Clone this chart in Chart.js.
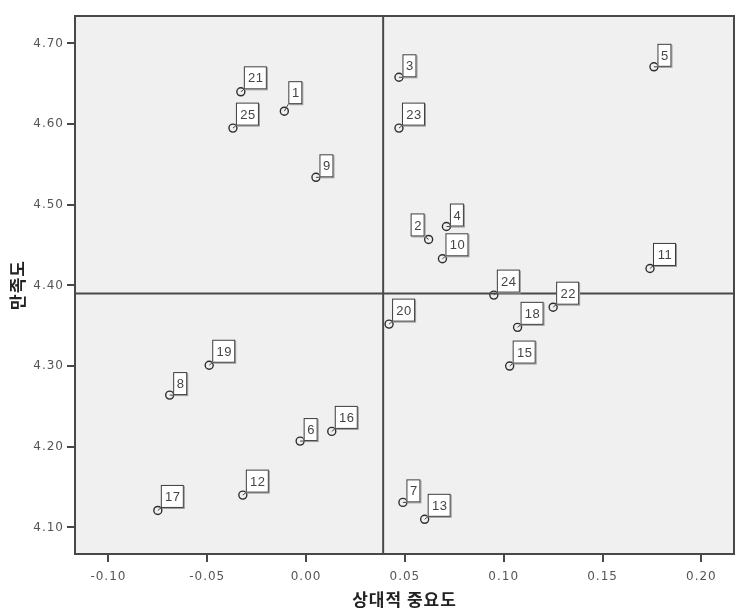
<!DOCTYPE html>
<html>
<head>
<meta charset="utf-8">
<script src="https://cdn.jsdelivr.net/npm/chart.js@4"></script>
<style>
  html, body { margin: 0; padding: 0; background: #fff; }
  #wrap { width: 750px; height: 616px; }
</style>
</head>
<body>
<div id="wrap"><canvas id="chart" width="750" height="616"></canvas></div>
<script>
// item numbers and their coordinates
const itemLabels = ["21", "1", "25", "9", "3", "5", "23", "2", "4", "10", "11", "24", "22",
  "20", "18", "15", "7", "13", "19", "8", "6", "16", "12", "17"];
const importance = [-0.033, -0.011, -0.037, 0.005, 0.047, 0.176, 0.047, 0.062, 0.071, 0.069, 0.174, 0.095, 0.125,
  0.042, 0.107, 0.103, 0.049, 0.060, -0.049, -0.069, -0.003, 0.013, -0.032, -0.075];
const satisfaction = [4.640, 4.616, 4.595, 4.534, 4.658, 4.671, 4.595, 4.457, 4.473, 4.433, 4.421, 4.388, 4.373,
  4.352, 4.348, 4.300, 4.131, 4.110, 4.301, 4.264, 4.207, 4.219, 4.140, 4.121];

// mean lines
const meanImportance = 0.039;
const meanSatisfaction = 4.390;

// axes
const xTicks = [-0.10, -0.05, 0.00, 0.05, 0.10, 0.15, 0.20];
const yTicks = [4.10, 4.20, 4.30, 4.40, 4.50, 4.60, 4.70];
const xRange = [-0.1169, 0.2165];
const yRange = [4.067, 4.734];

// labels that are not placed up-right of their point
const labelPlacement = { "1": { dx: 4, dy: -7 }, "2": { dx: -18, dy: -3 } };

const points = importance.map((x, i) => ({ x: x, y: satisfaction[i] }));

const plotFrame = {
  id: "plotFrame",
  beforeDraw(chart) {
    // the original axis text is spaced out a little
    chart.ctx.letterSpacing = "1px";
  },
  beforeDatasetsDraw(chart) {
    const { ctx, chartArea: a } = chart;
    ctx.save();
    ctx.fillStyle = "#f0f0f0";
    ctx.fillRect(a.left, a.top, a.right - a.left, a.bottom - a.top);
    ctx.restore();
  },
  afterDatasetsDraw(chart) {
    const { ctx, chartArea: a } = chart;
    ctx.save();
    ctx.strokeStyle = "#484848";
    ctx.lineWidth = 2;
    ctx.strokeRect(a.left, a.top, a.right - a.left, a.bottom - a.top);

    // number boxes next to each point
    const meta = chart.getDatasetMeta(2);
    ctx.font = "13px 'Liberation Sans', Arial, sans-serif";
    ctx.letterSpacing = "0.5px";
    ctx.textAlign = "center";
    ctx.textBaseline = "middle";
    meta.data.forEach((pt, i) => {
      const txt = itemLabels[i];
      const w = txt.length > 1 ? 23 : 14;
      const h = 23;
      let dx = txt.length > 1 ? 3 : 3.5;
      let dy = txt.length > 1 ? -2.5 : 0;
      if (labelPlacement[txt]) {
        dx = labelPlacement[txt].dx;
        dy = labelPlacement[txt].dy;
      }
      const left = pt.x + dx;
      const bottom = pt.y + dy;
      const cornerX = dx < 0 ? left + w : left;

      ctx.strokeStyle = "#444";
      ctx.lineWidth = 1;
      ctx.beginPath();
      ctx.moveTo(pt.x, pt.y);
      ctx.lineTo(cornerX, bottom);
      ctx.stroke();

      ctx.fillStyle = "#9a9a9a";
      ctx.fillRect(left + 1, bottom - h + 1, w, h);
      ctx.fillStyle = "#ffffff";
      ctx.fillRect(left, bottom - h, w, h);
      ctx.strokeStyle = "#3c3c3c";
      ctx.strokeRect(left + 0.5, bottom - h + 0.5, w - 1, h - 1);

      ctx.fillStyle = "#444";
      ctx.fillText(txt, left + w / 2 + 0.5, bottom - h / 2 + 1);
    });
    ctx.restore();
  },
};

new Chart(document.getElementById("chart"), {
  type: "scatter",
  data: {
    datasets: [
      {
        type: "line",
        data: [{ x: meanImportance, y: yRange[0] }, { x: meanImportance, y: yRange[1] }],
        borderColor: "#484848",
        borderWidth: 2,
        pointRadius: 0,
      },
      {
        type: "line",
        data: [{ x: xRange[0], y: meanSatisfaction }, { x: xRange[1], y: meanSatisfaction }],
        borderColor: "#484848",
        borderWidth: 2,
        pointRadius: 0,
      },
      {
        data: points,
        pointRadius: 4,
        pointBorderWidth: 1.4,
        pointBorderColor: "#2e2e2e",
        pointBackgroundColor: "rgba(0,0,0,0)",
      },
    ],
  },
  options: {
    responsive: false,
    animation: false,
    layout: { padding: { top: 16, right: 16, left: 0, bottom: 0 } },
    plugins: {
      legend: { display: false },
      tooltip: { enabled: false },
    },
    scales: {
      x: {
        type: "linear",
        min: xRange[0],
        max: xRange[1],
        afterBuildTicks: (scale) => {
          scale.ticks = xTicks.map((v) => ({ value: v }));
        },
        afterFit: (scale) => {
          scale.height = 62;
        },
        ticks: {
          callback: (v) => v.toFixed(2),
          color: "#555",
          font: { family: "'DejaVu Sans', sans-serif", size: 12 },
          padding: 8,
          maxRotation: 0,
        },
        grid: { drawOnChartArea: false, tickLength: 8, color: "#484848", lineWidth: 2 },
        border: { display: false },
        title: {
          display: true,
          text: "상대적 중요도",
          color: "#222",
          font: { family: "'Noto Sans CJK KR', sans-serif", size: 17, weight: "bold" },
          padding: { top: 0, bottom: 6 },
        },
      },
      y: {
        type: "linear",
        min: yRange[0],
        max: yRange[1],
        afterBuildTicks: (scale) => {
          scale.ticks = yTicks.map((v) => ({ value: v }));
        },
        afterFit: (scale) => {
          scale.width = 75;
        },
        ticks: {
          callback: (v) => v.toFixed(2),
          color: "#555",
          font: { family: "'DejaVu Sans', sans-serif", size: 12 },
          padding: 3,
        },
        grid: { drawOnChartArea: false, tickLength: 8, color: "#484848", lineWidth: 2 },
        border: { display: false },
        title: {
          display: true,
          text: "만족도",
          color: "#222",
          font: { family: "'Noto Sans CJK KR', sans-serif", size: 17, weight: "bold" },
          padding: { top: 7, bottom: 0 },
        },
      },
    },
  },
  plugins: [plotFrame],
});
</script>
</body>
</html>
